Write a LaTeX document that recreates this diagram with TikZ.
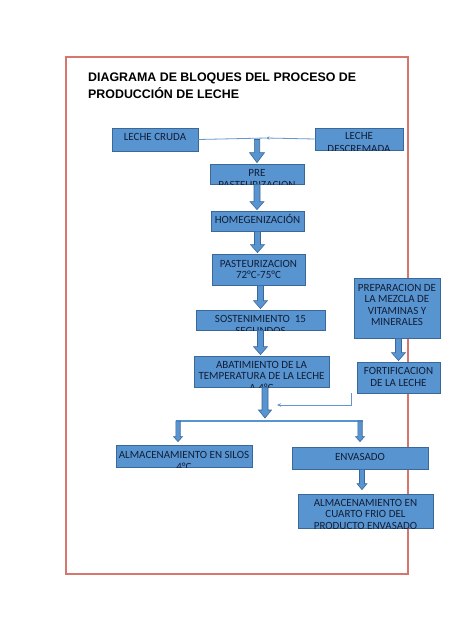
\documentclass[tikz,border=0pt]{standalone}
\usepackage{fontspec}
\newfontfamily\boxfont{Carlito}
\newfontfamily\titlefont{Liberation Sans}
\usetikzlibrary{arrows.meta,calc}
\definecolor{boxfill}{RGB}{88,148,208}
\definecolor{boxline}{RGB}{58,104,152}
\definecolor{txtcol}{RGB}{18,30,54}
\definecolor{framecol}{RGB}{214,118,108}
\definecolor{thincol}{RGB}{100,150,205}
\tikzset{
  box/.style={draw=boxline, fill=boxfill, line width=0.8pt, inner sep=0pt},
  txt/.style={inner sep=0pt, align=center, text=txtcol, font=\boxfont\fontsize{11}{10.8}\selectfont},
  titletxt/.style={inner sep=0pt, text=black, font=\titlefont\bfseries\fontsize{12.4}{17}\selectfont},
  barrowst/.style={fill=boxfill, draw=boxline, line width=0.6pt, line join=miter},
  thinline/.style={draw=thincol, line width=0.8pt},
  hline/.style={draw=boxfill, line width=2pt},
}
% name, x1, y1, x2, y2, first-line offset, text
\newcommand\blk[7]{%
  \node[box, minimum width={(#4-#2)*1pt}, minimum height={(#5-#3)*1pt}] (#1) at ({(#2+#4)/2},{(#3+#5)/2}) {};
  \begin{scope}
    \clip (#1.south west) rectangle (#1.north east);
    \node[txt, anchor=north] (#1t) at ([yshift={(6.5-#6)*1pt}]#1.north) {\rule{0pt}{10pt}#7};
  \end{scope}}
% start (x and y used), end (y used), shaft half, head half, head length
\newcommand\barrow[5]{%
  \path[barrowst] let \p1=(#1), \p2=(#2) in
    (\x1-#3pt,\y1) -- (\x1+#3pt,\y1) -- (\x1+#3pt,\y2+#5pt) -- (\x1+#4pt,\y2+#5pt)
    -- (\x1,\y2) -- (\x1-#4pt,\y2+#5pt) -- (\x1-#3pt,\y2+#5pt) -- cycle;}
\begin{document}
\begin{tikzpicture}[x=1pt,y=-1pt]
\useasboundingbox (0,0) rectangle (474,632);
\fill[white] (0,0) rectangle (474,632);
% frame
\draw[framecol, line width=1.3pt] (66,57) rectangle (408,574);
% title
\node[titletxt, anchor=base west] (t1) at (88,81) {DIAGRAMA DE BLOQUES DEL PROCESO DE};
\node[titletxt, anchor=base west] (t2) at (88,98) {PRODUCCIÓN DE LECHE};
% blocks
\blk{cruda}{112}{128}{198}{151}{9}{LECHE CRUDA}
\blk{desc}{315}{128}{403}{150}{8.5}{LECHE\\[1.8pt]DESCREMADA}
\blk{pre}{210}{164}{304}{184}{9}{PRE\\[1.5pt]PASTEURIZACION}
\blk{homeg}{211}{211}{304}{231}{9.5}{HOMEGENIZACIÓN}
\blk{pasteur}{212}{254}{305}{285}{10}{PASTEURIZACION\\[0.3pt]72°C-75°C}
\blk{sost}{196}{310}{325}{330}{9}{SOSTENIMIENTO~~15\\[1.8pt]SEGUNDOS}
\blk{abat}{194}{356}{329}{387}{9.5}{ABATIMIENTO DE LA\\TEMPERATURA DE LA LECHE\\[1pt]A 4°C}
\blk{prep}{354}{278}{440}{338}{10}{PREPARACION DE\\[0.8pt]LA MEZCLA DE\\[0.8pt]VITAMINAS Y\\[0.3pt]MINERALES}
\blk{fort}{357}{362}{440}{393}{9.5}{FORTIFICACION\\[0.5pt]DE LA LECHE}
\blk{silos}{116}{445}{252}{467}{10}{ALMACENAMIENTO EN SILOS\\[1.5pt]4°C}
\blk{env}{292}{447}{428}{469}{10}{ENVASADO}
\blk{cuarto}{298}{494}{433}{528}{9.5}{ALMACENAMIENTO EN\\CUARTO FRIO DEL\\[1.2pt]PRODUCTO ENVASADO}
% junction coordinates
\coordinate (m1) at (266,138);
\coordinate (j1) at (257,139.5);
\coordinate (hl) at (176,421);
\coordinate (hr) at (363,421);
\coordinate (hm) at (265,421);
\coordinate (s1) at (178,421);
\coordinate (s2) at (360,421);
\coordinate (ftip) at (277,405);
% thin connectors
\draw[thinline] (cruda.east) -- (m1);
\draw[thinline, -{Stealth[length=3.5pt,width=3.5pt]}] (desc.west) -- (m1);
\draw[thinline, -{Stealth[length=4pt,width=3.5pt]}] ([xshift=-5pt]fort.south west) |- (ftip);
\draw[hline] (hl) -- (hr);
% block arrows
\barrow{j1}{[yshift=1pt]pre.north}{2.7}{7.5}{10}
\barrow{pre.south}{[yshift=1pt]homeg.north}{3}{7}{8}
\barrow{homeg.south}{[yshift=1pt]pasteur.north}{3}{7}{8}
\barrow{pasteur.south -| sost.north}{[yshift=1pt]sost.north}{3}{7}{8}
\barrow{sost.south}{[yshift=1pt]abat.north}{3}{7}{8}
\barrow{[xshift=3.5pt]abat.south}{[yshift=3pt]hm}{3}{6.5}{8}
\barrow{prep.south -| fort.north}{[yshift=1pt]fort.north}{3}{7}{8}
\barrow{s1}{[yshift=3pt]silos.north}{2.2}{4.5}{5}
\barrow{s2}{[yshift=5pt]env.north}{2.2}{4.5}{5}
\barrow{[xshift=2pt]env.south}{[yshift=4pt]cuarto.north}{2.5}{5}{6}
\end{tikzpicture}
\end{document}
